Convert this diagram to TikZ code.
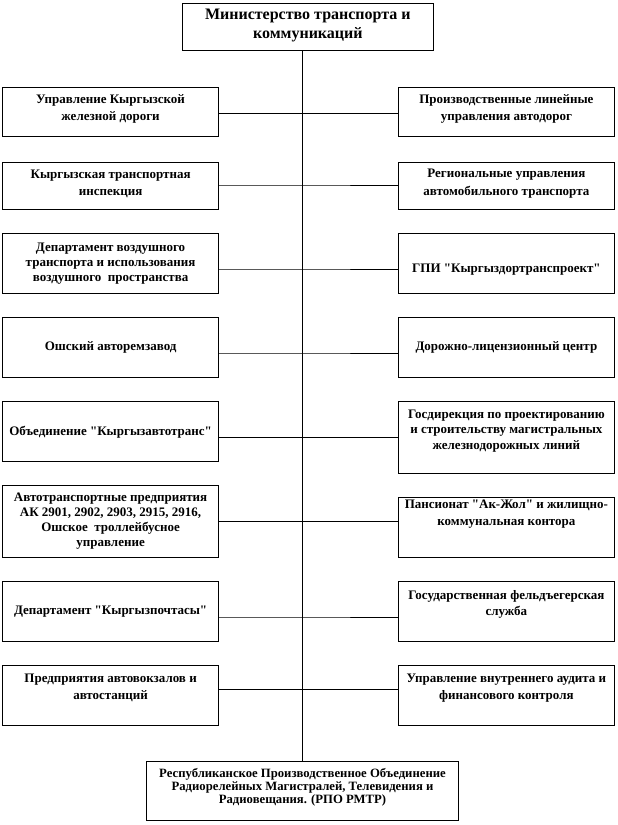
\documentclass[tikz,border=0pt]{standalone}
\usepackage{fontspec}
\setmainfont{Liberation Serif}[Ligatures=TeXOff]
\begin{document}
\begin{tikzpicture}[x=1pt,y=-1pt,
  box/.style={draw=black,line width=1pt,inner sep=0pt,outer sep=0pt,fill=white},
  lbox/.style={box,minimum width=215.8pt},
  txt/.style={align=center,inner sep=0pt,font=\fontsize{13}{#1}\selectfont\bfseries},
  txt/.default=16.5,
  conn/.style={line width=1pt}]
\useasboundingbox[fill=white] (0,0) rectangle (618,825);
% boxes
\node[box,minimum width=250.3pt,minimum height=47.4pt] (top) at (307.85,27) {};
\node[box,minimum width=311.6pt,minimum height=58.8pt] (bot) at (302.5,791.1) {};
\node[lbox,minimum height=49.4pt] (l1) at (110.6,112) {};
\node[lbox,minimum height=49.4pt] (r1) at (506.4,112) {};
\node[lbox,minimum height=47.5pt] (l2) at (110.6,185.75) {};
\node[lbox,minimum height=47.5pt] (r2) at (506.4,185.75) {};
\node[lbox,minimum height=59.7pt] (l3) at (110.6,263.15) {};
\node[lbox,minimum height=59.7pt] (r3) at (506.4,263.15) {};
\node[lbox,minimum height=59.7pt] (l4) at (110.6,347.15) {};
\node[lbox,minimum height=59.7pt] (r4) at (506.4,347.15) {};
\node[lbox,minimum height=59.3pt] (l5) at (110.6,431.35) {};
\node[lbox,minimum height=71.3pt] (r5) at (506.4,437.35) {};
\node[lbox,minimum height=71.7pt] (l6) at (110.6,521.15) {};
\node[lbox,minimum height=59.7pt] (r6) at (506.4,527.15) {};
\node[lbox,minimum height=59.8pt] (l7) at (110.6,611.6) {};
\node[lbox,minimum height=59.8pt] (r7) at (506.4,611.6) {};
\node[lbox,minimum height=59.8pt] (l8) at (110.6,695.6) {};
\node[lbox,minimum height=59.8pt] (r8) at (506.4,695.6) {};
% connector points on the trunk
\coordinate (c1) at (302.5,113.3);
\coordinate (c2) at (302.5,185);
\coordinate (c3) at (302.5,269);
\coordinate (c4) at (302.5,353);
\coordinate (c5) at (302.5,437.3);
\coordinate (c6) at (302.5,521.3);
\coordinate (c7) at (302.5,617);
\coordinate (c8) at (302.5,689.3);
% trunk
\draw[conn] (top.south -| bot.north) -- (bot.north);
% branches
\foreach \i in {1,...,8}{
  \draw[conn] (l\i.east |- c\i) -- (c\i) -- (r\i.west |- c\i);
}
% texts
\node[txt,font=\fontsize{16}{19.3}\selectfont\bfseries] (ttop) at (307.85,25.35) {Министерство транспорта и\\коммуникаций};
\node[txt=13.3,font=\fontsize{12.7}{13.3}\selectfont\bfseries] (tbot) at (302.5,787.2) {Республиканское Производственное Объединение\\Радиорелейных Магистралей, Телевидения и\\Радиовещания. (РПО РМТР)};
\node[txt=17] (tl1) at (110.6,108.5) {Управление Кыргызской\\железной дороги};
\node[txt=17] (tr1) at (506.4,108.5) {Производственные линейные\\управления автодорог};
\node[txt=17.5] (tl2) at (110.6,183.85) {Кыргызская транспортная\\инспекция};
\node[txt=17.5] (tr2) at (506.4,183.85) {Региональные управления\\автомобильного транспорта};
\node[txt=15] (tl3) at (110.6,263.3) {Департамент воздушного\\транспорта и использования\\воздушного\ \ пространства};
\node[txt] (tr3) at (506.4,269.3) {ГПИ "Кыргыздортранспроект"};
\node[txt] (tl4) at (110.6,347.7) {Ошский авторемзавод};
\node[txt] (tr4) at (506.4,347.7) {Дорожно-лицензионный центр};
\node[txt] (tl5) at (110.6,432) {Объединение "Кыргызавтотранс"};
\node[txt=15.5] (tr5) at (506.4,431) {Госдирекция по проектированию\\и строительству магистральных\\железнодорожных линий};
\node[txt=15] (tl6) at (110.6,520.7) {Автотранспортные предприятия\\АК 2901, 2902, 2903, 2915, 2916,\\Ошское\ \ троллейбусное\\управление};
\node[txt=17] (tr6) at (506.4,514) {Пансионат "Ак-Жол" и жилищно-\\коммунальная контора};
\node[txt] (tl7) at (110.6,612) {Департамент "Кыргызпочтасы"};
\node[txt=16.7] (tr7) at (506.4,604.3) {Государственная фельдъегерская\\служба};
\node[txt=17.4] (tl8) at (110.6,688) {Предприятия автовокзалов и\\автостанций};
\node[txt=17.4] (tr8) at (506.4,688) {Управление внутреннего аудита и\\финансового контроля};
\end{tikzpicture}
\end{document}
